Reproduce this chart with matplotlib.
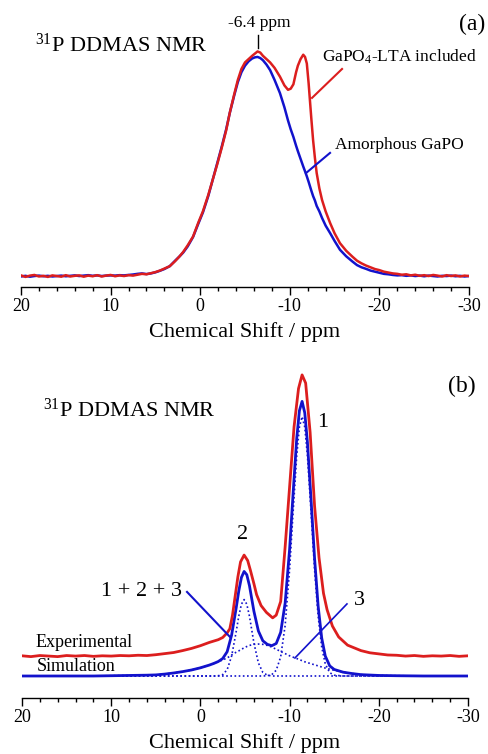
import numpy as np
import matplotlib
matplotlib.use('Agg')
import matplotlib.pyplot as plt
from matplotlib.ticker import MultipleLocator

plt.rcParams['font.family'] = ['Liberation Serif', 'DejaVu Serif']
plt.rcParams['mathtext.fontset'] = 'custom'
plt.rcParams['mathtext.rm'] = 'Liberation Serif'
plt.rcParams['mathtext.it'] = 'Liberation Serif:italic'

RED = '#dc1e1e'
BLUE = '#1212cc'

# ---- panel (a): chemical shift (ppm) and normalised intensity
xa = [20, 19.5, 19, 18.5, 18, 17.5, 17, 16.5, 16, 15.5, 15, 14.5, 14, 13.5, 13, 12.5,
      12, 11.5, 11, 10.5, 10, 9.5, 9, 8.5, 8, 7.5, 7, 6.5, 6, 5.5, 5, 4.5, 4,
      3.4, 2.8, 2.3, 1.9, 1.4, 0.8, 0.2, -0.3, -0.9, -1.4, -1.9, -2.4, -2.9, -3.3,
      -3.8, -4.2, -4.6, -5.0, -5.4, -5.8, -6.1, -6.4, -6.7, -7.0, -7.4, -7.8, -8.3,
      -8.9, -9.4, -9.8, -10.1, -10.4, -10.7, -10.9, -11.2, -11.5, -11.7, -11.9,
      -12.1, -12.25, -12.4, -12.6, -12.8, -13.0, -13.3, -13.6, -14.0, -14.5, -15.0,
      -15.6, -16.3, -17.0, -17.5, -18.0, -18.5, -19.0, -19.5, -20.0, -20.5, -21,
      -21.5, -22, -22.5, -23, -23.5, -24, -24.5, -25, -25.5, -26, -26.5, -27, -27.5,
      -28, -28.5, -29, -29.5, -30]
gapo_lta = [0.003, -0.004, 0.002, 0.005, -0.002, 0.001, -0.004, 0.003, 0.000, -0.003,
            0.004, -0.002, 0.001, 0.003, -0.003, 0.002, -0.001, 0.004, -0.002, 0.002,
            0.005, -0.001, 0.003, 0.000, 0.004, 0.002, 0.006, 0.010, 0.008, 0.013,
            0.018, 0.025, 0.034,
            0.045, 0.068, 0.090, 0.110, 0.140, 0.180, 0.245, 0.295, 0.370, 0.440, 0.510,
            0.585, 0.665, 0.745, 0.830, 0.895, 0.945, 0.975, 0.990, 1.005, 1.015, 1.025,
            1.020, 1.005, 0.990, 0.975, 0.950, 0.910, 0.870, 0.850, 0.855, 0.875, 0.930,
            0.960, 0.990, 1.010, 1.000, 0.970, 0.880, 0.800, 0.720, 0.620, 0.540, 0.470,
            0.400, 0.347, 0.295, 0.242, 0.195, 0.150, 0.115, 0.088, 0.070, 0.058, 0.048,
            0.040, 0.032, 0.027, 0.020, 0.016, 0.012, 0.010, 0.006, 0.008, 0.003, 0.006,
            0.001, 0.004, 0.000, 0.005, 0.002, -0.002, 0.004, 0.000, 0.003, -0.002,
            0.002, 0.000]
amorphous = [-0.002, 0.001, -0.003, 0.000, 0.002, -0.001, 0.001, -0.002, 0.000, 0.002,
             -0.001, 0.001, 0.003, 0.000, 0.002, 0.004, 0.001, 0.003, 0.000, 0.002,
             0.003, 0.002, 0.004, 0.003, 0.005, 0.007, 0.010, 0.012, 0.009, 0.012,
             0.017, 0.024, 0.032,
             0.045, 0.070, 0.090, 0.107, 0.135, 0.178, 0.240, 0.290, 0.365, 0.440,
             0.515, 0.590, 0.670, 0.744, 0.825, 0.885, 0.930, 0.960, 0.980, 0.993,
             0.998, 1.000, 0.995, 0.985, 0.965, 0.940, 0.895, 0.835, 0.770, 0.710,
             0.670, 0.635, 0.595, 0.570, 0.535, 0.500, 0.478, 0.455, 0.430, 0.410,
             0.390, 0.365, 0.345, 0.320, 0.295, 0.265, 0.230, 0.196, 0.160, 0.120,
             0.090, 0.066, 0.050, 0.040, 0.033, 0.025, 0.020, 0.015, 0.010, 0.008,
             0.005, 0.003, 0.004, 0.001, 0.003, 0.000, 0.002, -0.001, 0.002, 0.000,
             -0.002, 0.001, 0.000, 0.002, -0.001, 0.001, -0.002, 0.000]

# ---- panel (b): simulated components on a common grid
xb = [20, 16, 12, 10, 8, 6, 5, 4, 3, 2, 1, 0, -1, -1.5, -2, -2.5, -3, -3.5, -4,
      -4.3, -4.6, -4.9, -5.2, -5.5, -6, -6.5, -7, -7.5, -8, -8.5, -9, -9.5, -10,
      -10.4, -10.8, -11.1, -11.4, -11.7, -12, -12.4, -12.8, -13.2, -13.6, -14,
      -14.5, -15, -16, -17, -18, -20, -22, -25, -30]
comp1 = [0] * 12 + [0] * 7 + [0] * 5 + \
        [0, 0, 0, 0.001, 0.005, 0.021, 0.070, 0.185, 0.390] + \
        [0.604, 0.807, 0.912, 0.950, 0.912, 0.807, 0.604, 0.390, 0.219, 0.106, 0.044] + \
        [0.012, 0.003, 0, 0, 0, 0, 0, 0, 0]
comp2 = [0] * 14 + \
        [0.001, 0.005, 0.023, 0.073, 0.160, 0.219, 0.263, 0.280, 0.263, 0.219, 0.121,
         0.048, 0.013, 0.003, 0] + [0] * 24
comp3 = [0, 0, 0, 0.001, 0.002, 0.003, 0.004, 0.007, 0.011, 0.016, 0.022, 0.030,
         0.040, 0.046, 0.052, 0.059, 0.066, 0.077, 0.087,
         0.092, 0.098, 0.103, 0.108, 0.112,
         0.116, 0.117, 0.116, 0.112, 0.106, 0.098, 0.090, 0.082, 0.074,
         0.069, 0.064, 0.060, 0.056, 0.052, 0.049, 0.045, 0.041, 0.037, 0.033, 0.029,
         0.025, 0.021, 0.014, 0.009, 0.005, 0.002, 0.001, 0, 0]

# experimental spectrum (b)
xe = [20, 19, 18, 17, 16, 15, 14, 13, 12, 11, 10, 9, 8, 7, 6, 5, 4, 3, 2, 1, 0,
      -1, -2, -2.5, -3, -3.3, -3.6, -3.9, -4.2, -4.5, -4.9, -5.3, -5.6, -6.0, -6.3,
      -6.8, -7.4, -8.1, -8.5, -9, -9.5, -10, -10.5, -11, -11.4, -11.8, -12.3, -12.8,
      -13.3, -13.8, -14.2, -14.8, -15.5, -16.5, -18, -19, -20, -21, -22, -23, -24,
      -25, -26, -27, -28, -29, -30]
experimental = [0.001, -0.002, 0.002, 0.000, -0.002, 0.002, 0.000, 0.002, -0.001, 0.001,
                0.000, 0.002, 0.001, 0.003, 0.002, 0.005, 0.009, 0.013, 0.020, 0.028,
                0.038, 0.050, 0.060, 0.068, 0.085, 0.100, 0.150, 0.220, 0.290, 0.345,
                0.370, 0.350, 0.315, 0.265, 0.225, 0.185, 0.160, 0.140, 0.150, 0.200,
                0.400, 0.620, 0.840, 0.980, 1.030, 1.000, 0.820, 0.550, 0.360, 0.230,
                0.170, 0.110, 0.070, 0.040, 0.020, 0.012, 0.008, 0.004, 0.003, 0.000,
                0.002, -0.001, 0.001, 0.000, 0.002, -0.001, 0.001]
exp_offset = 0.073

fig = plt.figure(figsize=(4.89, 7.54), dpi=100)

def style_axis(ax):
    ax.set_xlim(20, -30)
    for s in ('left', 'right', 'top'):
        ax.spines[s].set_visible(False)
    ax.spines['bottom'].set_linewidth(1.0)
    ax.set_yticks([])
    ax.xaxis.set_major_locator(MultipleLocator(10))
    ax.xaxis.set_minor_locator(MultipleLocator(2))
    ax.tick_params(axis='x', which='major', direction='out', length=6, width=1,
                   labelsize=13, pad=2)
    ax.tick_params(axis='x', which='minor', direction='out', length=3, width=1)
    ax.set_xticks([20, 10, 0, -10, -20, -30])
    ax.set_xticklabels(['20', '10', '0', '-10', '-20', '-30'])
    ax.set_xlabel('Chemical Shift / ppm', fontsize=16, labelpad=5)
    ax.patch.set_alpha(0)

# ---------------- (a)
ax1 = fig.add_axes([21 / 489, 1 - 287 / 754, 448 / 489, 282 / 754])
style_axis(ax1)
ax1.set_ylim(-0.050, 1.237)
ax1.plot(xa, amorphous, color=BLUE, lw=1.8)
ax1.plot(xa, gapo_lta, color=RED, lw=1.8)
ax1.text(18.4, 1.055, r'$^{\mathrm{31}}$P DDMAS NMR', fontsize=16, va='center', ha='left')
ax1.text(-6.6, 1.155, '-6.4 ppm', fontsize=12.5, ha='center', va='center')
ax1.plot([-6.45, -6.45], [1.04, 1.10], color='black', lw=1)
ax1.text(-30.4, 1.15, '(a)', fontsize=17, ha='center', va='center')
ax1.text(-13.6, 1.0, r'GaPO$_{\mathrm{4}}$-LTA included', fontsize=12.5, ha='left', va='center')
ax1.plot([-15.83, -12.48], [0.945, 0.813], color=RED, lw=1.5)
ax1.text(-15.0, 0.598, 'Amorphous GaPO', fontsize=12.5, ha='left', va='center')
ax1.plot([-14.49, -11.81], [0.562, 0.470], color=BLUE, lw=1.5)

# ---------------- (b)
ax2 = fig.add_axes([22 / 489, 1 - 698 / 754, 446 / 489, 328 / 754])
style_axis(ax2)
ax2.set_ylim(-0.0806, 1.121)
total = np.array(comp1) + np.array(comp2) + np.array(comp3)
for comp in (comp1, comp2, comp3):
    ax2.plot(xb, comp, color=BLUE, lw=1.2, ls=(0, (1.0, 1.5)))
ax2.plot(xb, total, color=BLUE, lw=2.0)
ax2.plot(xe, np.array(experimental) + exp_offset, color=RED, lw=2.0)

ax2.text(17.65, 0.974, r'$^{\mathrm{31}}$P DDMAS NMR', fontsize=16, va='center', ha='left')
ax2.text(-29.3, 1.06, '(b)', fontsize=17, ha='center', va='center')
ax2.text(-13.74, 0.927, '1', fontsize=16, ha='center', va='center')
ax2.text(-4.78, 0.52, '2', fontsize=16, ha='center', va='center')
ax2.text(2.06, 0.308, '1 + 2 + 3', fontsize=16, ha='right', va='center')
ax2.plot([1.5, -3.32], [0.308, 0.143], color=BLUE, lw=1.5)
ax2.text(-17.78, 0.278, '3', fontsize=16, ha='center', va='center')
ax2.plot([-16.43, -10.6], [0.264, 0.066], color=BLUE, lw=1.2)
ax2.text(18.43, 0.121, 'Experimental', fontsize=13, ha='left', va='center')
ax2.text(18.32, 0.033, 'Simulation', fontsize=13, ha='left', va='center')

fig.savefig('out.png', dpi=100)
